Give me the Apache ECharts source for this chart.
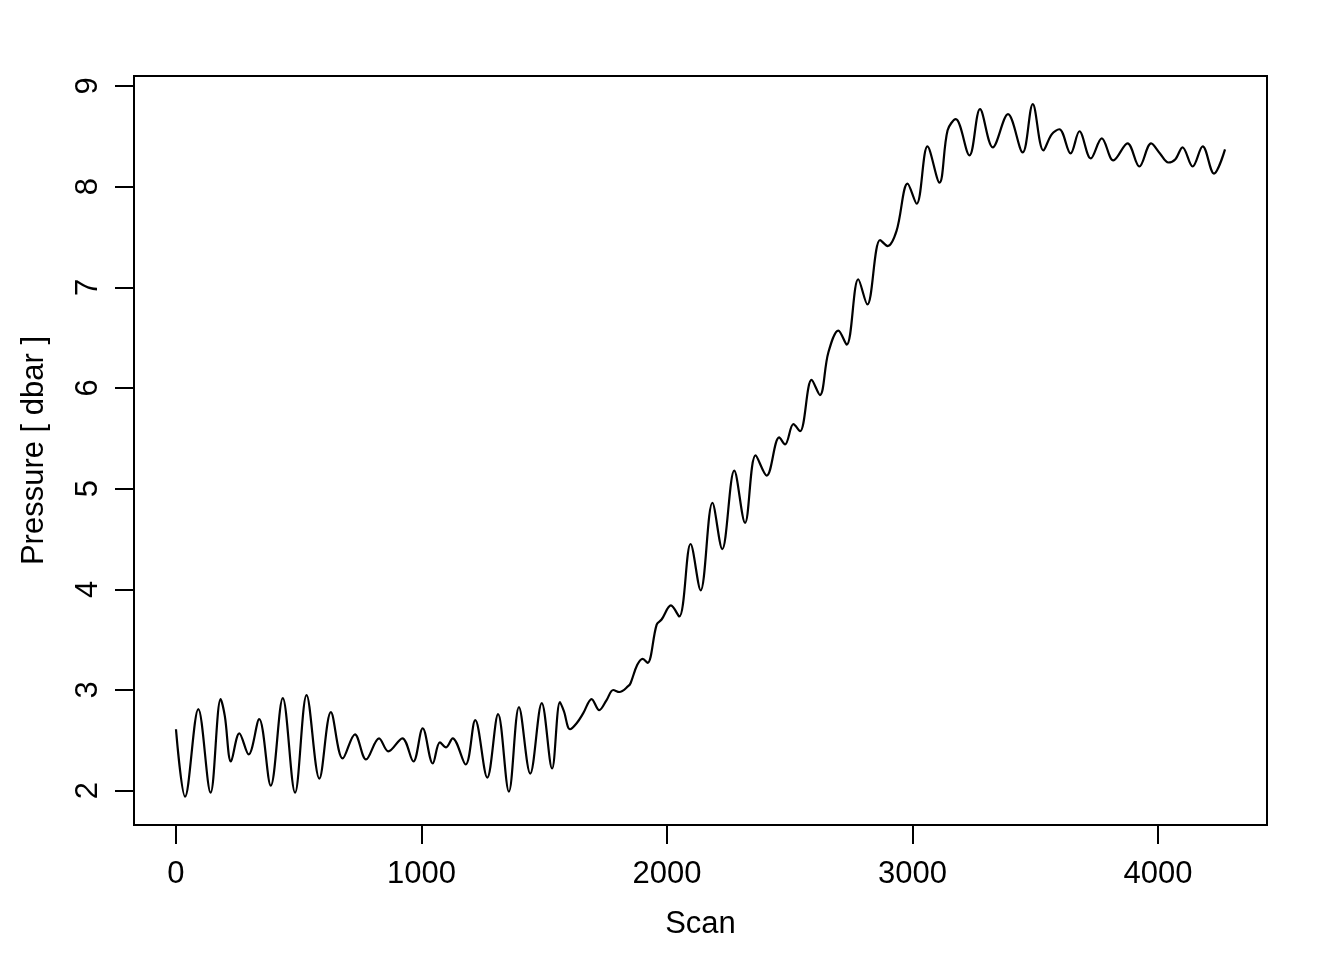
<!DOCTYPE html>
<html>
<head>
<meta charset="utf-8">
<script src="https://cdn.jsdelivr.net/npm/echarts@6/dist/echarts.min.js"></script>
<style>
html,body{margin:0;padding:0;background:#fff;}
#chart{width:1344px;height:960px;}
</style>
</head>
<body>
<div id="chart"></div>
<script>
const scan = [0,37,91,141,182,199,224,258,296,339,386,435,485,532,584,631,679,729,774,827,865,922,967,1005,1046,1075,1100,1127,1180,1219,1268,1312,1356,1397,1443,1490,1532,1564,1580,1605,1632,1659,1693,1724,1754,1781,1806,1843,1852,1879,1901,1921,1958,1978,2016,2050,2096,2137,2185,2225,2274,2318,2361,2406,2457,2481,2515,2542,2589,2623,2657,2698,2732,2779,2816,2868,2899,2935,2980,3017,3061,3110,3143,3176,3232,3275,3327,3389,3449,3490,3533,3567,3598,3644,3680,3726,3771,3818,3876,3924,3972,4008,4042,4070,4100,4141,4182,4228,4273];
const pressure = [2.61,1.94,2.81,1.98,2.91,2.74,2.29,2.57,2.36,2.71,2.05,2.92,1.98,2.95,2.12,2.78,2.32,2.56,2.31,2.52,2.39,2.52,2.29,2.62,2.27,2.48,2.43,2.52,2.26,2.70,2.13,2.76,1.99,2.83,2.17,2.87,2.22,2.88,2.79,2.61,2.67,2.77,2.91,2.80,2.90,3.00,2.98,3.04,3.07,3.25,3.31,3.27,3.65,3.70,3.84,3.73,4.45,3.99,4.86,4.40,5.18,4.66,5.33,5.13,5.51,5.44,5.64,5.57,6.08,5.93,6.35,6.57,6.43,7.08,6.83,7.47,7.41,7.56,8.03,7.83,8.40,8.04,8.56,8.67,8.31,8.77,8.39,8.72,8.34,8.82,8.36,8.52,8.57,8.33,8.55,8.28,8.48,8.26,8.43,8.20,8.43,8.33,8.24,8.27,8.39,8.20,8.40,8.13,8.37];
const xTicks = [0,1000,2000,3000,4000];
const yTicks = [2,3,4,5,6,7,8,9];
const xLabel = 'Scan';
const yLabel = 'Pressure [ dbar ]';

const data = scan.map((s,i)=>[s,pressure[i]]);
const font = 'Liberation Sans, Arial, Helvetica, sans-serif';
const chart = echarts.init(document.getElementById('chart'), null, {renderer:'canvas'});
chart.setOption({
  animation:false,
  backgroundColor:'#fff',
  grid:{left:134,right:77,top:76,bottom:135,show:true,borderColor:'#000',borderWidth:2,backgroundColor:'transparent'},
  xAxis:{
    type:'value',min:-171,max:4444,
    name:xLabel,nameLocation:'middle',nameGap:84,
    nameTextStyle:{color:'#000',fontSize:31,fontFamily:font},
    axisLine:{show:false,onZero:false},
    splitLine:{show:false},
    axisTick:{show:true,length:19,customValues:xTicks,lineStyle:{color:'#000',width:2}},
    axisLabel:{customValues:xTicks,margin:34,color:'#000',fontSize:31,fontFamily:font,formatter:v=>String(v)}
  },
  yAxis:{
    type:'value',min:1.659,max:9.099,
    name:yLabel,nameLocation:'middle',nameGap:84,nameRotate:90,
    nameTextStyle:{color:'#000',fontSize:31,fontFamily:font},
    axisLine:{show:false,onZero:false},
    splitLine:{show:false},
    axisTick:{show:true,length:19,customValues:yTicks,lineStyle:{color:'#000',width:2}},
    axisLabel:{customValues:yTicks,rotate:90,margin:30,color:'#000',fontSize:31,fontFamily:font,formatter:v=>String(v)}
  },
  series:[{
    type:'line',data:data,smooth:0.35,showSymbol:false,
    lineStyle:{color:'#000',width:2.2}
  }]
});
</script>
</body>
</html>
